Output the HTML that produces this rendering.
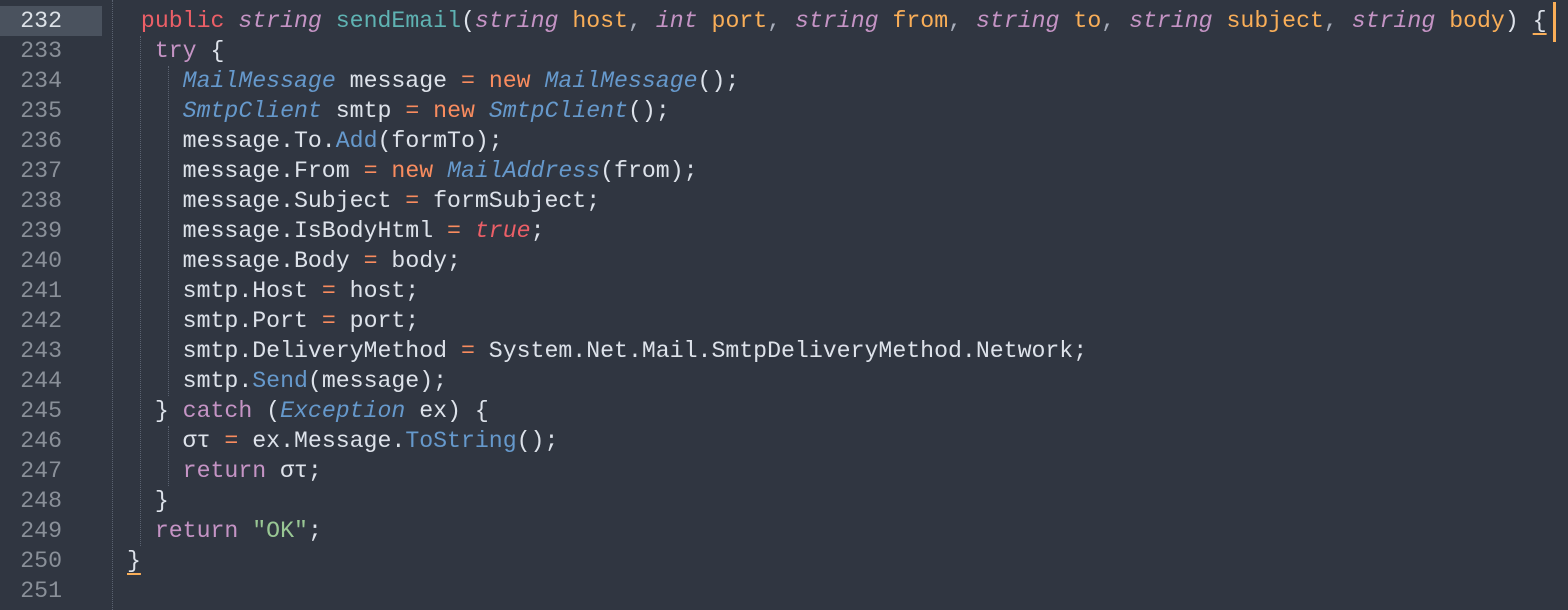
<!DOCTYPE html>
<html><head><meta charset="utf-8"><style>
body{margin:0;width:1568px;height:610px;background:#303641;overflow:hidden;position:relative;font-family:"Liberation Mono","DejaVu Sans Mono",monospace;font-size:23.2px;}
.g{position:absolute;left:0;width:62px;text-align:right;color:#8a9099;height:30px;line-height:30px;}
.g.a{color:#dde2e8;}
.hl{position:absolute;left:0;top:6px;width:102px;height:30px;background:#4a525e;}
.l{position:absolute;left:127px;height:30px;line-height:30px;white-space:pre;color:#dde2ea;}
.k{color:#ec5f67}.p{color:#c594c5}.pi{color:#c594c5;font-style:italic}.f{color:#5fb3b3}.o{color:#f9ae58}.t{color:#6699cc;font-style:italic}.m{color:#6699cc}.n{color:#f98c5f}.s{color:#99c794}.c{color:#a7adba}.r{color:#ec5f67;font-style:italic}
.u{text-decoration:underline;text-decoration-color:#f9ae58;text-decoration-thickness:2px;text-underline-offset:6px;}
.dot{position:absolute;border-left:1px dotted #5a6270;}
</style></head><body>
<div class="hl"></div>
<div class="dot" style="left:112px;top:0;height:610px"></div>
<div class="dot" style="left:140px;top:36px;height:510px"></div>
<div class="dot" style="left:168px;top:66px;height:330px"></div>
<div class="dot" style="left:168px;top:426px;height:60px"></div>
<div class="g a" style="top:6px">232</div>
<div class="g" style="top:36px">233</div>
<div class="g" style="top:66px">234</div>
<div class="g" style="top:96px">235</div>
<div class="g" style="top:126px">236</div>
<div class="g" style="top:156px">237</div>
<div class="g" style="top:186px">238</div>
<div class="g" style="top:216px">239</div>
<div class="g" style="top:246px">240</div>
<div class="g" style="top:276px">241</div>
<div class="g" style="top:306px">242</div>
<div class="g" style="top:336px">243</div>
<div class="g" style="top:366px">244</div>
<div class="g" style="top:396px">245</div>
<div class="g" style="top:426px">246</div>
<div class="g" style="top:456px">247</div>
<div class="g" style="top:486px">248</div>
<div class="g" style="top:516px">249</div>
<div class="g" style="top:546px">250</div>
<div class="g" style="top:576px">251</div>

<div class="l" style="top:6px"> <span class="k">public</span> <span class="pi">string</span> <span class="f">sendEmail</span>(<span class="pi">string</span> <span class="o">host</span><span class="c">,</span> <span class="pi">int</span> <span class="o">port</span><span class="c">,</span> <span class="pi">string</span> <span class="o">from</span><span class="c">,</span> <span class="pi">string</span> <span class="o">to</span><span class="c">,</span> <span class="pi">string</span> <span class="o">subject</span><span class="c">,</span> <span class="pi">string</span> <span class="o">body</span>) <span class="u">{</span></div>
<div class="l" style="top:36px">  <span class="p">try</span> {</div>
<div class="l" style="top:66px">    <span class="t">MailMessage</span> message <span class="n">=</span> <span class="n">new</span> <span class="t">MailMessage</span>();</div>
<div class="l" style="top:96px">    <span class="t">SmtpClient</span> smtp <span class="n">=</span> <span class="n">new</span> <span class="t">SmtpClient</span>();</div>
<div class="l" style="top:126px">    message.To.<span class="m">Add</span>(formTo);</div>
<div class="l" style="top:156px">    message.From <span class="n">=</span> <span class="n">new</span> <span class="t">MailAddress</span>(from);</div>
<div class="l" style="top:186px">    message.Subject <span class="n">=</span> formSubject;</div>
<div class="l" style="top:216px">    message.IsBodyHtml <span class="n">=</span> <span class="r">true</span>;</div>
<div class="l" style="top:246px">    message.Body <span class="n">=</span> body;</div>
<div class="l" style="top:276px">    smtp.Host <span class="n">=</span> host;</div>
<div class="l" style="top:306px">    smtp.Port <span class="n">=</span> port;</div>
<div class="l" style="top:336px">    smtp.DeliveryMethod <span class="n">=</span> System.Net.Mail.SmtpDeliveryMethod.Network;</div>
<div class="l" style="top:366px">    smtp.<span class="m">Send</span>(message);</div>
<div class="l" style="top:396px">  } <span class="p">catch</span> (<span class="t">Exception</span> ex) {</div>
<div class="l" style="top:426px">    στ <span class="n">=</span> ex.Message.<span class="m">ToString</span>();</div>
<div class="l" style="top:456px">    <span class="p">return</span> στ;</div>
<div class="l" style="top:486px">  }</div>
<div class="l" style="top:516px">  <span class="p">return</span> <span class="s">"OK"</span>;</div>
<div class="l" style="top:546px"><span class="u">}</span></div>
<div style="position:absolute;left:1553px;top:2px;width:3px;height:40px;background:#f9ae58"></div>
</body></html>
